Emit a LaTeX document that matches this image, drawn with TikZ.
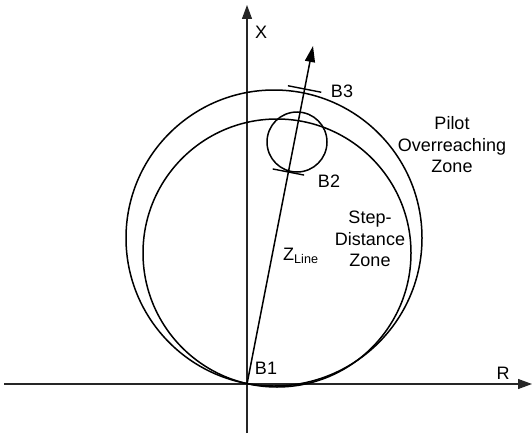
\documentclass[tikz,border=0pt]{standalone}
\usepackage{fontspec}
\setmainfont{Liberation Sans}
\usetikzlibrary{arrows.meta,calc}
\begin{document}
\begin{tikzpicture}[x=1pt,y=-1pt,
  axis/.style={line width=1.1pt,draw=black!85,-{Triangle[length=14pt,width=10pt]}},
  zone/.style={line width=1.5pt},
  tick/.style={line width=1.4pt},
  lbl/.style={inner sep=0pt,font=\fontsize{18}{22}\selectfont},
  zonelbl/.style={lbl,align=center,font=\fontsize{18}{21.5}\selectfont}]
\useasboundingbox (0,0) rectangle (532,436);
% axes
\coordinate (Rstart) at (4,384);
\coordinate (Rend) at (532,384);
\coordinate (Xstart) at (247,433);
\coordinate (Xend) at (247,5);
\draw[axis] (Rstart) -- (Rend);
\draw[axis] (Xstart) -- (Xend);
% zones
\coordinate (Oc) at (274,238);
\coordinate (Ic) at (277,253);
\coordinate (Sc) at (297,142);
\draw[zone] (Oc) circle[radius=148];
\draw[zone] (Ic) circle[radius=134];
\draw[zone] (Sc) circle[radius=30];
% line impedance
\coordinate (O) at (247,384);
\coordinate (T) at (313,46);
\draw[line width=1.5pt,-{Triangle[length=16pt,width=10pt]}] (O) -- (T);
% ticks
\coordinate (P3) at ($(O)!0.8728!(T)$);
\coordinate (P2) at ($(O)!0.6272!(T)$);
\coordinate (P3a) at ($(P3)!17pt!90:(T)$);
\coordinate (P3b) at ($(P3)!17pt!-90:(T)$);
\coordinate (P2a) at ($(P2)!16pt!90:(T)$);
\coordinate (P2b) at ($(P2)!16pt!-90:(T)$);
\draw[tick] (P3a) -- (P3b);
\draw[tick] (P2a) -- (P2b);
% labels
\node[lbl] (lX) at (261,32) {X};
\node[lbl] (lR) at (503,373) {R};
\node[lbl] (lB1) at (266,368) {B1};
\node[lbl] (lB2) at (329,181) {B2};
\node[lbl] (lB3) at (342,91) {B3};
\node[lbl,anchor=base west] (lZ) at (283,260) {Z\textsubscript{Line}};
\node[zonelbl] (lPilot) at (452,145) {Pilot\\Overreaching\\Zone};
\node[zonelbl] (lStep) at (370,239) {Step-\\Distance\\Zone};
\end{tikzpicture}
\end{document}
